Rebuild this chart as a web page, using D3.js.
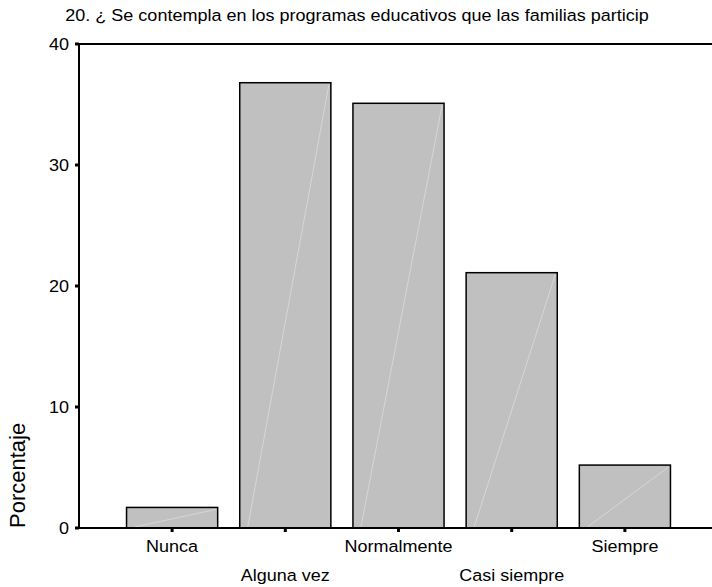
<!DOCTYPE html>
<html>
<head>
<meta charset="utf-8">
<script src="https://cdn.jsdelivr.net/npm/d3@7"></script>
<style>
  html, body { margin: 0; padding: 0; background: #fff; }
  svg { display: block; font-family: "Liberation Sans", Arial, sans-serif; }
</style>
</head>
<body>
<svg id="chart" width="712" height="587"></svg>
<script>
const title = "20. ¿ Se contempla en los programas educativos que las familias particip";
const categories = ["Nunca", "Alguna vez", "Normalmente", "Casi siempre", "Siempre"];
const values = [1.7, 36.8, 35.1, 21.1, 5.2];
const yTicks = [0, 10, 20, 30, 40];
const yLabel = "Porcentaje";

(function () {
const svg = d3.select("#chart");
const W = 712;
const pLeft = 79, pTop = 44, pBottom = 528, pRight = 718;
const FS = 17, SX = 1.06;

const x = d3.scaleBand().domain(categories).range([pLeft, pRight])
  .paddingInner(0.195).paddingOuter(0.42);
const y = d3.scaleLinear().domain([0, 40]).range([pBottom, pTop]);

function stretchedText(sel, tx, ty, anchor, txt) {
  return sel.append("text")
    .attr("transform", `translate(${tx},${ty}) scale(${SX},1)`)
    .attr("text-anchor", anchor).attr("font-size", FS).attr("fill", "#000")
    .text(txt);
}

// Title
stretchedText(svg, 357, 21, "middle", title);

// Bars
const g = svg.append("g");
g.selectAll("rect.bar").data(values).join("rect")
  .attr("class", "bar")
  .attr("x", (d, i) => x(categories[i]))
  .attr("y", d => y(d))
  .attr("width", x.bandwidth())
  .attr("height", d => y(0) - y(d))
  .attr("fill", "#c0c0c0")
  .attr("stroke", "#000")
  .attr("stroke-width", 1.5);

// faint diagonal lines
g.selectAll("line.diag").data(values).join("line")
  .attr("class", "diag")
  .attr("x1", (d, i) => x(categories[i]) + 8)
  .attr("y1", y(0) - 1)
  .attr("x2", (d, i) => x(categories[i]) + x.bandwidth() - 2)
  .attr("y2", d => y(d) + 2)
  .attr("stroke", "#dcdcdc")
  .attr("stroke-width", 0.8);

// Axes frame lines
svg.append("line").attr("x1", pLeft).attr("x2", W).attr("y1", pTop).attr("y2", pTop)
  .attr("stroke", "#000").attr("stroke-width", 2);
svg.append("line").attr("x1", pLeft).attr("x2", W).attr("y1", pBottom).attr("y2", pBottom)
  .attr("stroke", "#000").attr("stroke-width", 2);
svg.append("line").attr("x1", pLeft).attr("x2", pLeft).attr("y1", pTop - 1).attr("y2", pBottom + 1)
  .attr("stroke", "#000").attr("stroke-width", 2);

// Y axis ticks and labels
const ya = svg.append("g").attr("class", "yaxis");
yTicks.forEach(t => {
  stretchedText(ya, pLeft - 10, y(t) + 6, "end", d3.format("d")(t));
});
svg.selectAll("rect.ytick").data(yTicks).join("rect").attr("class", "ytick")
  .attr("x", pLeft - 4).attr("y", d => y(d) - 1.5).attr("width", 4).attr("height", 3).attr("fill", "#000");

// X ticks
svg.selectAll("rect.xtick").data(categories).join("rect").attr("class", "xtick")
  .attr("x", d => x(d) + x.bandwidth() / 2 - 1.5).attr("y", pBottom)
  .attr("width", 3).attr("height", 4).attr("fill", "#000");

// X labels (staggered)
const xl = svg.append("g").attr("class", "xlabels");
categories.forEach((c, i) => {
  stretchedText(xl, x(c) + x.bandwidth() / 2, i % 2 === 0 ? 552 : 581, "middle", c);
});

// Y label
svg.append("text").attr("transform", `translate(25,528) rotate(-90)`)
  .attr("text-anchor", "start").attr("font-size", 22).attr("fill", "#000").text(yLabel);
})();
</script>
</body>
</html>
